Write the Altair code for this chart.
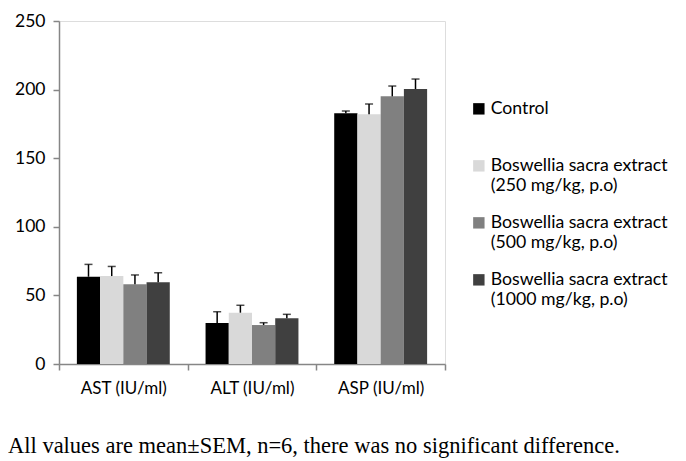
import altair as alt
import pandas as pd

tests = ["AST (IU/ml)", "ALT (IU/ml)", "ASP (IU/ml)"]
groups = [
    "Control",
    "Boswellia sacra extract (250 mg/kg, p.o)",
    "Boswellia sacra extract (500 mg/kg, p.o)",
    "Boswellia sacra extract (1000 mg/kg, p.o)",
]
colors = ["#000000", "#d9d9d9", "#808080", "#404040"]

ast_mean = [63.6, 64.1, 58.1, 59.5]
ast_sem = [9.0, 7.0, 6.8, 7.0]
alt_mean = [29.9, 37.4, 28.4, 33.3]
alt_sem = [8.2, 5.4, 1.7, 2.9]
asp_mean = [182.7, 182.0, 195.1, 200.4]
asp_sem = [1.7, 7.5, 7.5, 7.3]

y_ticks = [0, 50, 100, 150, 200, 250]
caption = "All values are mean±SEM, n=6, there was no significant difference."

rows = []
for test, means, sems in zip(tests, [ast_mean, alt_mean, asp_mean], [ast_sem, alt_sem, asp_sem]):
    for g, m, s in zip(groups, means, sems):
        rows.append({"test": test, "group": g, "value": m, "upper": m + s})
df = pd.DataFrame(rows)

x_enc = alt.X(
    "test:N",
    sort=tests,
    scale=alt.Scale(paddingInner=0, paddingOuter=0),
    axis=alt.Axis(
        title=None,
        labelAngle=0,
        tickBand="extent",
        domainColor="#868686",
        domainWidth=1.5,
        tickColor="#868686",
        tickWidth=1.5,
        tickSize=6,
        labelFont="Lato",
        labelFontSize=17,
        labelColor="black",
        labelPadding=10,
    ),
)
xoff_enc = alt.XOffset(
    "group:N", sort=groups, scale=alt.Scale(paddingInner=0, paddingOuter=0.77)
)
y_scale = alt.Scale(domain=[0, 250], nice=False)

legend_expr = (
    "datum.label == 'Control' ? ['Control', ' '] : "
    "[substring(datum.label, 0, indexof(datum.label, ' (')), "
    "substring(datum.label, indexof(datum.label, ' (') + 1)]"
)

bars = alt.Chart(df).mark_bar().encode(
    x=x_enc,
    xOffset=xoff_enc,
    y=alt.Y(
        "value:Q",
        scale=y_scale,
        axis=alt.Axis(
            title=None,
            values=y_ticks,
            grid=False,
            domainColor="#868686",
            domainWidth=1.5,
            tickColor="#868686",
            tickWidth=1.5,
            tickSize=6,
            labelFont="Lato",
            labelFontSize=17.5,
            labelColor="black",
            labelPadding=8,
        ),
    ),
    color=alt.Color(
        "group:N",
        sort=groups,
        scale=alt.Scale(domain=groups, range=colors),
        legend=alt.Legend(
            title=None,
            orient="none",
            legendX=411,
            legendY=79,
            symbolType="square",
            symbolSize=130,
            symbolStrokeWidth=0,
            labelFont="Lato",
            labelFontSize=17.7,
            labelLimit=400,
            labelOffset=3,
            rowPadding=18,
            padding=0,
            labelExpr=legend_expr,
        ),
    ),
)

err = alt.Chart(df).mark_rule(color="black", strokeWidth=1.5).encode(
    x=x_enc, xOffset=xoff_enc, y=alt.Y("value:Q", scale=y_scale), y2="upper:Q"
)
caps = alt.Chart(df).mark_tick(color="black", thickness=1.5, size=8).encode(
    x=x_enc, xOffset=xoff_enc, y=alt.Y("upper:Q", scale=y_scale)
)

chart = (
    alt.layer(bars, err, caps)
    .properties(
        width=386,
        height=343,
        autosize=alt.AutoSizeParams(type="none"),
        padding={"left": 51, "top": 13, "right": 225, "bottom": 95},
        title=alt.TitleParams(
            text=caption,
            orient="bottom",
            anchor="start",
            frame="group",
            dx=-51,
            offset=39,
            font="Liberation Serif",
            fontSize=22.5,
            fontWeight="normal",
            color="black",
        ),
        background="white",
    )
    .configure_view(stroke=None)
    .configure(style={"guide-label": {"lineHeight": 20}})
)

chart.save("out.html", embed_options={"renderer": "svg", "actions": False})
